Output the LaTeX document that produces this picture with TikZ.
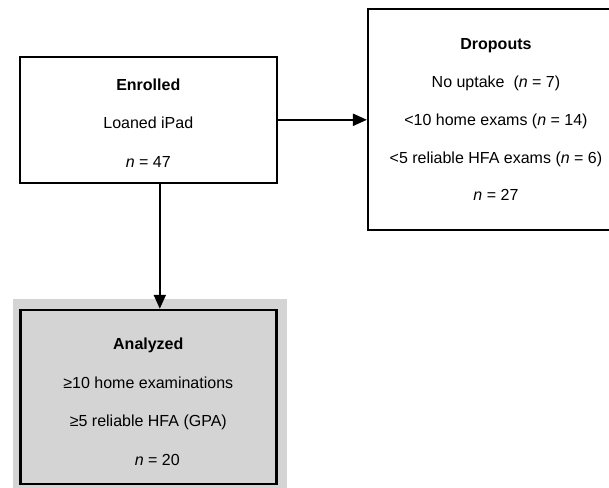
\documentclass[tikz,border=0pt]{standalone}
\usepackage{fontspec}
\setmainfont{Liberation Sans}
\usetikzlibrary{arrows.meta,positioning}
\definecolor{analyzedgray}{RGB}{212,212,212}
\tikzset{
  stage/.style={draw, line width=2pt, align=center, inner sep=0pt,
    font=\fontsize{16}{37.7}\selectfont},
  stagetext/.style={align=center, inner sep=0pt, font=\fontsize{16}{38.5}\selectfont},
  flow/.style={line width=2pt, -{Triangle[length=14pt,width=12pt]}}
}

\begin{document}
\begin{tikzpicture}[x=1pt,y=-1pt]
    \clip (0,0) rectangle (609,487);
    \fill[analyzedgray] (13,299) rectangle (287,490);
    \node[stage, minimum width=256.7pt, minimum height=126.5pt] (enrolled) at (148.3,119.8) {};
    \node[stagetext, yshift=-3pt] (enrolled text) at (enrolled)
      {\textbf{Enrolled}\\Loaned iPad\\\textit{n} = 47};
    \node[stage, minimum width=256pt, minimum height=221pt] (dropouts) [right=89.3pt of enrolled]
      {\textbf{Dropouts}\\No uptake\ \ (\textit{n} = 7)\\<10 home exams (\textit{n} = 14)\\<5 reliable HFA exams (\textit{n} = 6)\\\textit{n} = 27};
    \node[stage, fill=analyzedgray, line width=2.5pt, minimum width=256pt, minimum height=174pt] (analyzed) [below=124.7pt of enrolled] {};
    \node[stagetext, yshift=-5pt] (analyzed text) at (analyzed)
      {\textbf{Analyzed}\\≥10 home examinations\\≥5 reliable HFA (GPA)\\\hspace*{18pt}\textit{n} = 20};
    \draw[flow] (enrolled.east) -- (dropouts.west);
    \draw[flow] ([xshift=11.5pt]enrolled.south) -- ([xshift=11.5pt]analyzed.north);
\end{tikzpicture}
\end{document}
